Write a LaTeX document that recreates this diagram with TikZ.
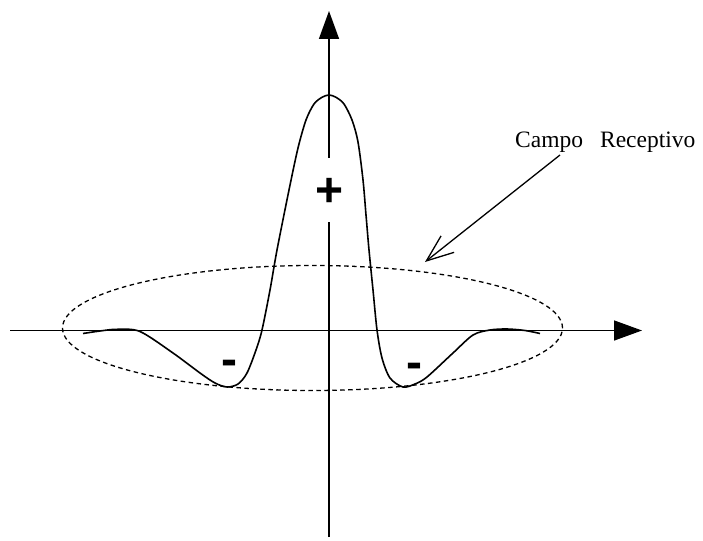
\documentclass[tikz,border=0pt]{standalone}
\usepackage{fontspec}
\setmainfont{Liberation Serif}
\newfontfamily\signfont{Liberation Sans}
\usetikzlibrary{arrows.meta,shapes.geometric}
\begin{document}
\begin{tikzpicture}[x=1pt,y=-1pt,
  axis/.style={line width=1.5pt,-{Triangle[length=28pt,width=20pt]}},
  curve/.style={line width=1.6pt,line join=round},
  field/.style={line width=1.3pt,dash pattern=on 4.5pt off 3.5pt},
  pointer/.style={line width=1.3pt,-{Straight Barb[length=27pt,width=21pt,line width=1.3pt]}},
  sign/.style={font=\signfont\bfseries\fontsize{48}{48}\selectfont,inner xsep=2pt,inner ysep=0pt,anchor=base},
  label/.style={font=\fontsize{23.5}{25}\selectfont,inner sep=0pt,anchor=base west}]
\useasboundingbox (0,0) rectangle (703,540);
% axes
\coordinate (ybot) at (329,537);
\coordinate (ytop) at (329,11);
\coordinate (xleft) at (10,330.5);
\coordinate (xright) at (642,330.5);
\draw[axis] (ybot) -- (ytop);
\draw[axis] (xleft) -- (xright);
% receptive field
\node[field,draw,ellipse,minimum width=500pt,minimum height=125pt,inner sep=0pt] (rf) at (312.5,328) {};
% profile
\draw[curve] plot[smooth,tension=0.5] coordinates {
 (83,333.5) (100,331) (117,329.3) (140,331.5) (173,353) (200,373) (215,383) (227,387)
 (238,384) (247,373) (256,350) (262,330) (270,290) (277,250) (289,190) (298,148)
 (306,120) (314,104) (322,97.3) (329,95) (336,97.3) (344,104) (352,120) (358,142) (363,180)
 (366,215) (369,250) (373,290) (377,330) (382,358) (390,378) (403,387) (415,384)
 (427,377) (453,353) (473,335) (490,330) (507,329) (525,330.5) (540,333.5)};
% signs
\node[sign,fill=white,text depth=16pt,text height=48pt] (plus) at (330,206) {+};
\node[sign] (mleft) at (229,375) {-};
\node[sign] (mright) at (414,378) {-};
% label and pointer
\node[label] (lbl) at (515,148) {Campo\hspace{17pt}Receptivo};
\coordinate (pstart) at (560,155);
\coordinate (ptip) at (425,262);
\draw[pointer] (pstart) -- (ptip);
\end{tikzpicture}
\end{document}
